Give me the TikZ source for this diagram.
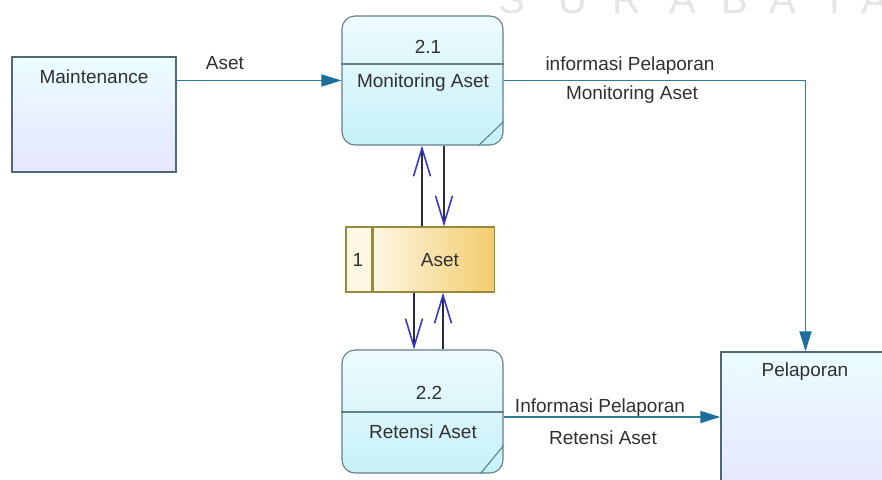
\documentclass[tikz,border=0pt]{standalone}
\usepackage{fontspec}
\setmainfont{Liberation Sans}
\usetikzlibrary{arrows.meta,calc}

\definecolor{txt}{HTML}{303030}
\definecolor{flow}{HTML}{2E7E96}
\definecolor{flowtip}{HTML}{1C6E9C}
\definecolor{procedge}{HTML}{667E88}
\definecolor{extedge}{HTML}{4E6878}
\definecolor{storeedge}{HTML}{968A3E}
\definecolor{storelight}{HTML}{FDF6E2}
\definecolor{storegold}{HTML}{F3CD6E}
\definecolor{proctop}{HTML}{EEFBFD}
\definecolor{procbottom}{HTML}{C6F1F9}
\definecolor{vtip}{HTML}{3838C8}
\definecolor{vline}{HTML}{2A2A44}

\tikzset{
  lbl/.style={font=\fontsize{19}{22}\selectfont, text=txt, inner sep=0pt},
  extbox/.style={draw=extedge, line width=1.3pt, top color=blue!12!cyan!8, bottom color=blue!10!white,
    shading angle=0, inner sep=0pt},
  procbox/.style={draw=procedge, line width=1.1pt, rounded corners=13pt,
    top color=proctop, bottom color=procbottom, inner sep=0pt},
  storecell/.style={draw=storeedge, line width=1.1pt, inner sep=0pt},
  dataflow/.style={draw=flow, line width=1.6pt,
    -{Triangle[length=20pt,width=12pt,color=flowtip]}},
  storeflow/.style={draw=vline, line width=1.2pt,
    -{Straight Barb[length=28pt,width=17pt,line width=1.6pt,color=vtip]}},
  watermark/.style={font=\fontsize{40}{40}\selectfont, text=black!10, anchor=base, inner sep=0pt}
}

\begin{document}
\begin{tikzpicture}[x=1pt,y=-1pt]
\useasboundingbox (0,0) rectangle (882,479);
\clip (0,0) rectangle (882,479);

% faint lettering along the top edge
\foreach \ch/\cx [count=\i] in {S/512,U/573,R/627,A/683,B/735,A/783,Y/835,A/875}
  \node[watermark] (wm\i) at (\cx,13) {\ch};

% external entities
\node[extbox, minimum width=164pt, minimum height=115pt] (mnt) at (94,114.5) {};
\node[lbl] (mntlbl) at (94,77) {Maintenance};
\node[extbox, minimum width=169pt, minimum height=138pt] (pel) at (805.5,421) {};
\node[lbl] (pellbl) at (805,372) {Pelaporan};

% process 2.1
\node[procbox, minimum width=161pt, minimum height=129pt] (p21) at (422.5,80.5) {};
\draw[procedge, line width=1.1pt] (p21.west |- 0,64) -- (p21.east |- 0,64);
\draw[procedge, line width=1.1pt] ([xshift=-25pt]p21.south east) -- ([yshift=24pt]p21.south east);
\node[lbl] (p21id) at (428,47) {2.1};
\node[lbl] (p21name) at (423,83) {Monitoring Aset};

% process 2.2
\node[procbox, minimum width=161pt, minimum height=123pt] (p22) at (422.5,411.5) {};
\draw[procedge, line width=1.1pt] (p22.west |- 0,412) -- (p22.east |- 0,412);
\draw[procedge, line width=1.1pt] ([xshift=-23pt]p22.south east) -- ([yshift=28pt]p22.south east);
\node[lbl] (p22id) at (429,393) {2.2};
\node[lbl] (p22name) at (423,432) {Retensi Aset};

% data store 1
\node[storecell, minimum width=26pt, minimum height=65pt, fill=storelight] (stid) at (359,259.5) {};
\node[storecell, minimum width=121pt, minimum height=65pt, anchor=west,
  left color=storelight, right color=storegold] (st) at (stid.east) {};
\node[lbl] (stidlbl) at (358,260) {1};
\node[lbl] (stname) at (440,260) {Aset};

% flows between the processes and the store
\draw[storeflow] ([xshift=-0.5pt]st.north -| p21.south) -- ([xshift=-0.5pt]p21.south);
\draw[storeflow] ([xshift=21.5pt]p21.south) -- ([xshift=21.5pt]p21.south |- st.north);
\draw[storeflow] ([xshift=-8.5pt]p22.north |- st.south) -- ([xshift=-8.5pt]p22.north);
\draw[storeflow] ([xshift=20.5pt]p22.north) -- ([xshift=20.5pt]p22.north |- st.south);

% flows to and from the external entities
\draw[dataflow] (mnt.east |- p21.west) -- (p21.west);
\node[lbl] (asetlbl) at (225,63) {Aset};

\draw[dataflow] (p21.east) -| (pel.north);
\node[lbl] (fl2a) at (630,66) {informasi Pelaporan};
\node[lbl] (fl2b) at (632,95) {Monitoring Aset};

\draw[dataflow] ([yshift=-5.5pt]p22.east) -- ([yshift=-5.5pt]p22.east -| pel.west);
\node[lbl] (fl3a) at (600,408) {Informasi Pelaporan};
\node[lbl] (fl3b) at (603,438) {Retensi Aset};
\end{tikzpicture}
\end{document}
